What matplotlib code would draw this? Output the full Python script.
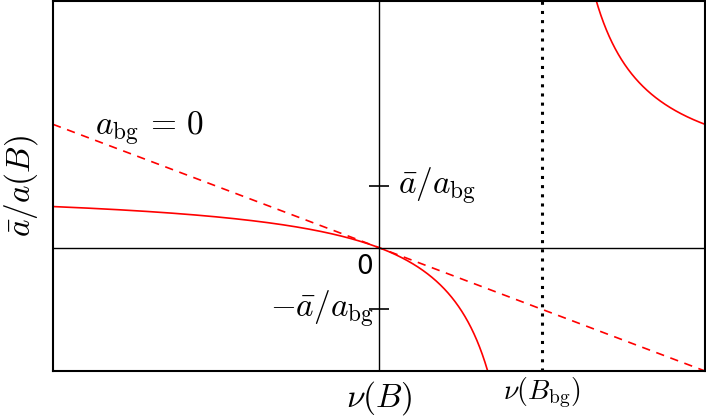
import numpy as np
import matplotlib
matplotlib.use("Agg")
import matplotlib.pyplot as plt

plt.rcParams['mathtext.fontset'] = 'cm'

# model parameters
nu_bg = 1.0          # position of pole nu(B_bg)
a_ratio = 1.0        # asymptote abar/a_bg
x_limits = [-2.0, 2.0]
y_limits = [-2.0, 4.0]
xtick_pos = [1.0]
xtick_labels = [r'$\nu(B_{\rm bg})$']

fig = plt.figure(figsize=(7.06, 4.18), dpi=100)
ax = fig.add_axes([53/706, 1 - 371/418, 652/706, 370/418])

# curve abar/a = A * nu/(nu - nu_bg)
x1 = np.linspace(x_limits[0], nu_bg - 1e-4, 2000)
x2 = np.linspace(nu_bg + 1e-4, x_limits[1], 2000)
for xs in (x1, x2):
    ax.plot(xs, a_ratio * xs / (xs - nu_bg), color='red', lw=1.2)

# a_bg = 0 line
xl = np.array(x_limits)
ax.plot(xl, -a_ratio * xl / nu_bg, color='red', lw=1.2, ls=(0, (5, 4)))

ax.axhline(0, color='black', lw=1.0)
ax.axvline(0, color='black', lw=1.0)
ax.axvline(nu_bg, color='black', lw=2.2, ls=(0, (1, 2)))

ax.plot([0, 0], [a_ratio, -a_ratio], ls='none', marker='_', ms=14, mew=1.2, color='black')

ax.text(0.115, a_ratio, r'$\bar{a}/a_{\rm bg}$', fontsize=24, va='center', ha='left')
ax.text(-0.03, -a_ratio, r'$-\bar{a}/a_{\rm bg}$', fontsize=24, va='center', ha='right')
ax.text(-0.035, -0.11, '0', fontsize=19, va='top', ha='right')
ax.text(-1.74, 1.93, r'$a_{\rm bg}\,=\,0$', fontsize=24, va='center', ha='left')

ax.set_xlim(x_limits)
ax.set_ylim(y_limits)
ax.set_xticks(xtick_pos)
ax.set_xticklabels(xtick_labels, fontsize=20)
ax.tick_params(axis='x', length=0, pad=3)
ax.set_yticks([])
ax.set_xlabel(r'$\nu(B)$', fontsize=24, va='center')
ax.xaxis.set_label_coords(0.5, -0.072)
ax.set_ylabel(r'$\bar{a}/a(B)$', fontsize=24, va='center')
ax.yaxis.set_label_coords(-0.049, 0.5)
for s in ax.spines.values():
    s.set_linewidth(1.5)

fig.savefig('out.png', dpi=100)
